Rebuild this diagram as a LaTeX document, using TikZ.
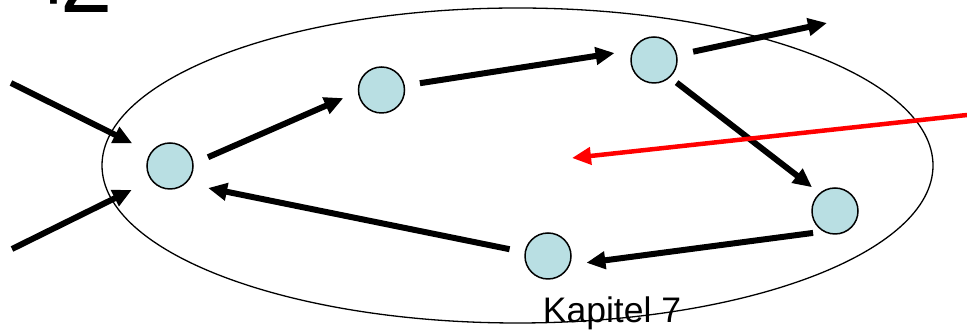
\documentclass[tikz,border=0pt]{standalone}
\usepackage{fontspec}
\setmainfont{Liberation Sans}
\usetikzlibrary{arrows.meta,calc}
\definecolor{nodefill}{HTML}{B9DFE3}
\begin{document}
\begin{tikzpicture}[x=1pt,y=1pt,
  state/.style={circle,draw,line width=1.5pt,fill=nodefill,minimum size=46pt,inner sep=0pt},
  arr/.style={line width=6pt,-{Triangle[length=19pt,width=17pt]}},
  redarr/.style={line width=4.5pt,red,-{Triangle[length=19pt,width=17pt]}},
  lbl/.style={inner sep=0pt,outer sep=0pt,font=\fontsize{35.5}{35.5}\selectfont},
  ttl/.style={inner sep=0pt,outer sep=0pt,font=\fontsize{94}{94}\selectfont}]
\useasboundingbox (0,0) rectangle (967,331);
\fill[white] (0,0) rectangle (967,331);
\draw[line width=1.3pt] (517.5,165.5) ellipse [x radius=415.5pt, y radius=157.5pt];
\node[ttl,anchor=base west] (title) at (27,318.5) {+\kern-21.9pt 2};
\node[lbl,anchor=base] (kap) at (612,8) {Kapitel 7};
\node[state] (A) at (170,165) {};
\node[state] (B) at (381.5,241) {};
\node[state] (C) at (654,271) {};
\node[state] (D) at (835,120) {};
\node[state] (E) at (548,75) {};
\coordinate (in1) at (11,248);
\coordinate (in2) at (12,82);
\coordinate (out) at (827,308);
\coordinate (rs) at (967,216);
\coordinate (rt) at (572,173);
\draw[arr] (in1) -- ($(A)+(149:44pt)$);
\draw[arr] (in2) -- ($(A)+(212:45pt)$);
\draw[arr] ($(A)+(13:39pt)$) -- ($(B)+(192:39pt)$);
\draw[arr] ($(B)+(10:39pt)$) -- ($(C)+(170:40pt)$);
\draw[arr] ($(C)+(12:40pt)$) -- (out);
\draw[arr] ($(C)+(-45:32pt)$) -- ($(D)+(134:33pt)$);
\draw[arr] ($(D)+(225:31pt)$) -- ($(E)+(-10:39pt)$);
\draw[arr] ($(E)+(170:39pt)$) -- ($(A)+(-30:44pt)$);
\draw[redarr] (rs) -- (rt);
\end{tikzpicture}
\end{document}
